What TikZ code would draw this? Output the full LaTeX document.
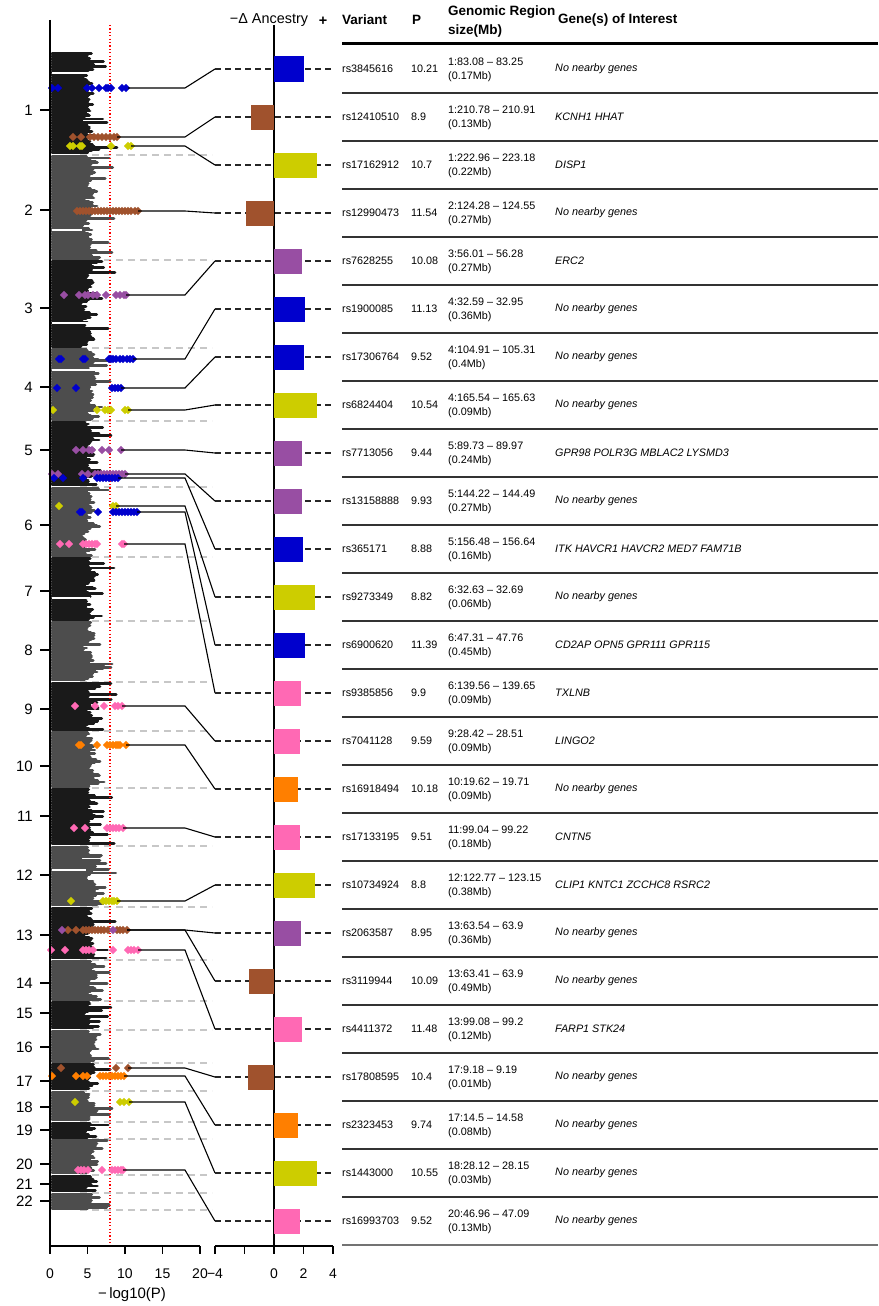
\documentclass[tikz,border=0pt]{standalone}
\usepackage{fontspec}
\setmainfont{Liberation Sans}
\definecolor{cblue}{HTML}{0000CD}
\definecolor{cbrown}{HTML}{A0522D}
\definecolor{cyel}{HTML}{CDCD00}
\definecolor{cpurp}{HTML}{984EA3}
\definecolor{cpink}{HTML}{FF69B4}
\definecolor{corange}{HTML}{FF7F00}
\definecolor{cblk}{HTML}{1A1A1A}
\definecolor{cgry}{HTML}{4D4D4D}
\tikzset{
  lead/.style={black, line width=1.1pt},
  rowdash/.style={black!85, line width=1.3pt, dash pattern=on 6pt off 4pt},
  chrdash/.style={black!22, line width=1.2pt, dash pattern=on 7pt off 5pt},
  axisln/.style={black, line width=1.2pt},
  sep/.style={black!80, line width=2pt},
  tabtxt/.style={anchor=west, inner sep=0pt, font=\fontsize{10.8}{12}\selectfont},
  genetxt/.style={anchor=west, inner sep=0pt, font=\fontsize{10.8}{12}\selectfont\itshape},
  headtxt/.style={anchor=west, inner sep=0pt, font=\fontsize{13.5}{15}\selectfont\bfseries},
  ticklbl/.style={inner sep=0pt, font=\fontsize{14}{16}\selectfont},
  chrlbl/.style={anchor=east, inner sep=0pt, font=\fontsize{15}{17}\selectfont},
}
\newcommand\mypts[3]{%
  \foreach \xx in {#3}{%
    \fill[#1] (\xx,#2) +(-4,0) -- +(0,-4.2) -- +(4,0) -- +(0,4.2) -- cycle;%
  }%
}
\begin{document}
\begin{tikzpicture}[x=1pt,y=-1pt]
\useasboundingbox (0,0) rectangle (878,1306);
\fill[white] (0,0) rectangle (878,1306);

% chromosome boundaries
\foreach \y in {155,260,348,421,487,557,621,682,731,788,846,907,960,1001,1030,1063,1091,1122,1139,1175,1193,1210}
  \draw[chrdash] (80,\y) -- (212,\y);

% manhattan bands
\def\prevL{32}
\pgfmathsetseed{11}
\foreach \ya/\yb/\col in {52/155/cblk,155/260/cgry,260/348/cblk,348/421/cgry,421/487/cblk,487/557/cgry,557/621/cblk,621/682/cgry,682/731/cblk,731/788/cgry,788/846/cblk,846/907/cgry,907/960/cblk,960/1001/cgry,1001/1030/cblk,1030/1063/cgry,1063/1091/cblk,1091/1122/cgry,1122/1139/cblk,1139/1175/cgry,1175/1193/cblk,1193/1210/cgry}{
  \pgfmathsetmacro\ys{\ya+1.4}
  \pgfmathsetmacro\yn{\ya+3}
  \pgfmathsetmacro\ye{\yb-1}
  \foreach \y in {\ys,\yn,...,\ye}{
    \pgfmathsetmacro\bdL{0.7*\prevL+0.3*(22+24*rnd)}
    \xdef\prevL{\bdL}
    \pgfmathsetmacro\lenL{\bdL+6*rnd+26*rnd^8}
    \draw[\col,line width=2.9pt,line cap=round] (52,\y) -- ++(\lenL,0);
  }
}
% gaps in bands
\foreach \y/\w in {73/45,230/30,323/58,370/46,598/38,870/34}
  \draw[white,line width=1.3pt] (52,\y) -- ++(\w,0);

% significance line
\draw[red, line width=1.1pt, dash pattern=on 1.2pt off 2.2pt] (110,25) -- (110,1246);

% highlighted points
\mypts{cblue}{88}{52,58,87,92,99,106,108,111,122,126}
\mypts{cbrown}{137}{73,81,90,94,98,102,106,110,114,117}
\mypts{cyel}{146}{70,73,80,82,111,128,131}
\mypts{cbrown}{211}{77,80,83,86,89,92,95,98,101,104,107,110,113,116,119,122,125,128,131,135,138}
\mypts{cpurp}{295}{64,79,85,88,93,97,106,116,120,124,126}
\mypts{cblue}{359}{59,61,83,85,109,111,113,116,120,123,127,130,133}
\mypts{cblue}{388}{57,76,112,115,118,121}
\mypts{cyel}{410}{53,97,105,108,111,125,128}
\mypts{cpurp}{450}{76,83,89,92,102,109,121}
\mypts{cpurp}{474}{52,58,82,88,95,98,101,104,107,110,113,116,119,122,125}
\mypts{cblue}{478}{54,63,83,97,100,103,106,109,112,115,118}
\mypts{cyel}{506}{59,113,116}
\mypts{cblue}{512}{80,82,98,113,116,119,122,125,128,131,134,137}
\mypts{cpink}{544}{60,69,83,86,89,92,95,97,122,124}
\mypts{cpink}{706}{75,95,104,115,118,122}
\mypts{corange}{745}{79,81,97,107,110,113,116,118,120,126}
\mypts{cpink}{828}{74,85,107,110,113,116,119,123}
\mypts{cyel}{901}{71,103,106,109,112,114,117}
\mypts{cbrown}{930}{68,76,83,86,89,92,95,98,101,104,108,117,120,123,127}
\mypts{cpurp}{930}{62,113}
\mypts{cpink}{950}{51,65,83,86,89,93,113,128,131,134,138}
\mypts{cbrown}{1068}{61,116,128}
\mypts{corange}{1076}{52,76,83,87,100,103,106,109,112,115,118,121,124}
\mypts{cyel}{1102}{75,120,124,129}
\mypts{cpink}{1170}{78,81,84,88,102,112,115,118,121,123}

% axes
\draw[axisln] (50,20) -- (50,1246);
\draw[axisln] (50,1246) -- (200,1246);
\foreach \x/\l [count=\k] in {50/0,87.5/5,125/10,162.5/15,200/20}{
  \draw[axisln] (\x,1246) -- (\x,1254);
  \node[ticklbl] (xt\k) at (\x,1274) {\l};
}
\draw[axisln] (215,1246) -- (333,1246);
\foreach \x in {215,244.5,274,303.5,333}
  \draw[axisln] (\x,1246) -- (\x,1254);
\foreach \x/\l [count=\k] in {215/−4,274/0,303.5/2,333/4}
  \node[ticklbl] (at\k) at (\x,1274) {\l};
\node[inner sep=0pt, font=\fontsize{15}{17}\selectfont] (xlab) at (132,1295) {−\,log10(P)};
\draw[axisln] (274,25) -- (274,1246);

\foreach \n/\y in {1/110,2/210,3/308,4/387,5/450,6/525,7/591,8/650,9/709,10/766,11/816,12/875,13/935,14/983,15/1013,16/1047,17/1081,18/1107,19/1130,20/1164,21/1184,22/1201}{
  \draw[axisln] (40,\y) -- (50,\y);
  \node[chrlbl] (c\n) at (33,\y) {\n};
}

% header
\node[inner sep=0pt, font=\fontsize{14.4}{16}\selectfont] (anc) at (269,20) {−Δ Ancestry};
\node[inner sep=0pt, font=\fontsize{14.4}{16}\selectfont\bfseries] (plus) at (323,21) {+};
\node[headtxt] (hv) at (342,20) {Variant};
\node[headtxt] (hp) at (412,20) {P};
\node[headtxt] (hr1) at (448,12) {Genomic Region};
\node[headtxt] (hr2) at (448,31) {size(Mb)};
\node[headtxt] (hg) at (558,20) {Gene(s) of Interest};
\draw[black, line width=3pt] (342,44) -- (878,44);
\foreach \k in {1,...,24}
  \draw[sep] (342,{45+48*\k}) -- (878,{45+48*\k});
\draw[black!55, line width=2pt] (342,1245) -- (878,1245);

\coordinate (bx) at (185,0);

% rows
\foreach \i/\py/\px/\col/\be/\var/\pv/\reg/\sz/\gene in {
1/88/128/cblue/304/rs3845616/10.21/1:83.08 – 83.25/0.17/No nearby genes,
2/137/117/cbrown/251/rs12410510/8.9/1:210.78 – 210.91/0.13/KCNH1 HHAT,
3/146/131/cyel/317/rs17162912/10.7/1:222.96 – 223.18/0.22/DISP1,
4/211/138/cbrown/246/rs12990473/11.54/2:124.28 – 124.55/0.27/No nearby genes,
5/295/126/cpurp/302/rs7628255/10.08/3:56.01 – 56.28/0.27/ERC2,
6/359/133/cblue/305/rs1900085/11.13/4:32.59 – 32.95/0.36/No nearby genes,
7/388/121/cblue/304/rs17306764/9.52/4:104.91 – 105.31/0.4/No nearby genes,
8/410/128/cyel/317/rs6824404/10.54/4:165.54 – 165.63/0.09/No nearby genes,
9/450/121/cpurp/302/rs7713056/9.44/5:89.73 – 89.97/0.24/GPR98 POLR3G MBLAC2 LYSMD3,
10/474/125/cpurp/302/rs13158888/9.93/5:144.22 – 144.49/0.27/No nearby genes,
11/478/118/cblue/303/rs365171/8.88/5:156.48 – 156.64/0.16/ITK HAVCR1 HAVCR2 MED7 FAM71B,
12/506/116/cyel/315/rs9273349/8.82/6:32.63 – 32.69/0.06/No nearby genes,
13/512/137/cblue/305/rs6900620/11.39/6:47.31 – 47.76/0.45/CD2AP OPN5 GPR111 GPR115,
14/544/124/cpink/301/rs9385856/9.9/6:139.56 – 139.65/0.09/TXLNB,
15/706/122/cpink/300/rs7041128/9.59/9:28.42 – 28.51/0.09/LINGO2,
16/745/126/corange/298/rs16918494/10.18/10:19.62 – 19.71/0.09/No nearby genes,
17/828/123/cpink/300/rs17133195/9.51/11:99.04 – 99.22/0.18/CNTN5,
18/901/117/cyel/315/rs10734924/8.8/12:122.77 – 123.15/0.38/CLIP1 KNTC1 ZCCHC8 RSRC2,
19/930/127/cpurp/301/rs2063587/8.95/13:63.54 – 63.9/0.36/No nearby genes,
20/930/127/cbrown/249/rs3119944/10.09/13:63.41 – 63.9/0.49/No nearby genes,
21/950/138/cpink/302/rs4411372/11.48/13:99.08 – 99.2/0.12/FARP1 STK24,
22/1068/128/cbrown/248/rs17808595/10.4/17:9.18 – 9.19/0.01/No nearby genes,
23/1076/124/corange/298/rs2323453/9.74/17:14.5 – 14.58/0.08/No nearby genes,
24/1102/129/cyel/317/rs1443000/10.55/18:28.12 – 28.15/0.03/No nearby genes,
25/1170/123/cpink/300/rs16993703/9.52/20:46.96 – 47.09/0.13/No nearby genes}{
  \pgfmathsetmacro\ry{21+48*\i}
  \coordinate (p\i) at (\px,\py);
  \coordinate (r\i) at (215,\ry);
  \coordinate (q\i) at (333,\ry);
  \draw[lead] (p\i) -- (p\i -| bx) -- (r\i);
  \draw[rowdash] (r\i) -- (q\i);
  \fill[\col] (274,\ry-12.5) rectangle (\be,\ry+12.5);
  \node[tabtxt] (v\i) at (342,\ry) {\var};
  \node[tabtxt] (pv\i) at (411,\ry) {\pv};
  \node[tabtxt] (ra\i) at (448,\ry-7.5) {\reg};
  \node[tabtxt] (rb\i) at (448,\ry+7.5) {(\sz Mb)};
  \node[genetxt] (g\i) at (555,\ry) {\gene};
}
\end{tikzpicture}
\end{document}
